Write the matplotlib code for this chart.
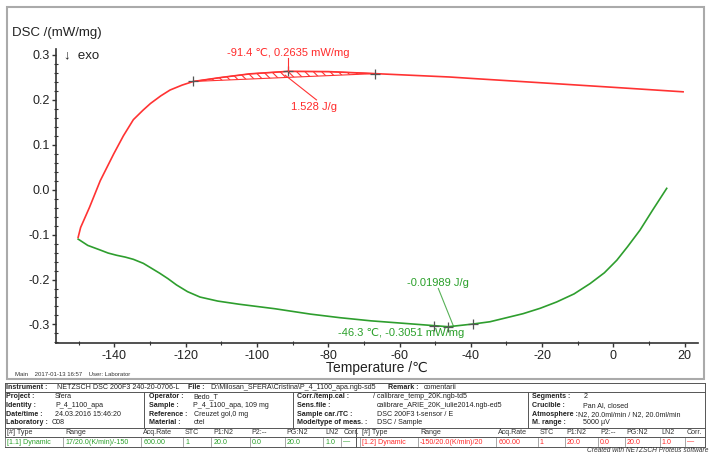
import numpy as np
import matplotlib.pyplot as plt
from matplotlib.lines import Line2D
from matplotlib.patches import Rectangle

plt.rcParams['font.family'] = ['Liberation Sans', 'DejaVu Sans']
plt.rcParams['hatch.linewidth'] = 0.8

W, H = 710, 454

# segment [1.2] heating -150 -> 20 C
heat_t = [-150.2, -149.5, -147.0, -144.0, -140.2, -137.5, -134.7, -132.0, -129.9,
          -127.0, -124.4, -121.0, -117.9, -110.0, -102.0, -91.4, -80.0, -66.9,
          -46.0, -40.2, -20.0, 0.0, 19.6]
heat_dsc = [-0.106, -0.084, -0.039, 0.020, 0.080, 0.120, 0.156, 0.177, 0.192,
            0.209, 0.222, 0.233, 0.241, 0.250, 0.258, 0.2635, 0.263, 0.2585,
            0.251, 0.248, 0.238, 0.228, 0.218]

# segment [1.1] cooling 17 -> -150 C
cool_t = [15.0, 11.0, 7.5, 4.0, 1.0, -2.5, -6.5, -11.0, -15.9, -20.5, -25.3, -34.6,
          -39.3, -46.3, -58.0, -68.0, -76.7, -85.0, -95.0, -105.0, -111.0, -116.0,
          -119.5, -122.6, -125.0, -127.3, -129.8, -131.9, -134.7, -137.0, -139.4,
          -141.8, -144.1, -147.5, -150.2]
cool_dsc = [0.003, -0.046, -0.090, -0.127, -0.157, -0.185, -0.209, -0.232, -0.250,
            -0.264, -0.276, -0.294, -0.299, -0.3051, -0.298, -0.292, -0.285, -0.277,
            -0.265, -0.255, -0.248, -0.239, -0.227, -0.212, -0.198, -0.186, -0.174,
            -0.164, -0.155, -0.150, -0.146, -0.141, -0.134, -0.124, -0.110]

# evaluation marks
heat_marks_t = [-117.9, -91.4, -66.9]
heat_marks_dsc = [0.241, 0.2635, 0.2585]
cool_marks_t = [-50.3, -46.3, -39.3]
cool_marks_dsc = [-0.303, -0.3051, -0.300]

xticks = [-140, -120, -100, -80, -60, -40, -20, 0, 20]
yticks = [-0.3, -0.2, -0.1, 0.0, 0.1, 0.2, 0.3]

red = '#ff3333'
green = '#2e9e2e'
red_txt = '#ff2a2a'
green_txt = '#2aa02a'


def fx(px):
    return px / W


def fy(py):
    return 1 - py / H


fig = plt.figure(figsize=(W / 100, H / 100), dpi=100)
ax = fig.add_axes([fx(55.7), fy(343.3), (697.7 - 55.7) / W, (343.3 - 48.7) / H])
ax.set_xlim(-156.5, 23.7)
ax.set_ylim(-0.342, 0.314)

ax.plot(cool_t, cool_dsc, color=green, lw=1.2)
ax.plot(heat_t, heat_dsc, color=red, lw=1.2)

# hatched peak area between curve and straight baseline
t0, t1 = heat_marks_t[0], heat_marks_t[2]
px_ = [t for t in heat_t if t0 <= t <= t1]
py_ = [d for t, d in zip(heat_t, heat_dsc) if t0 <= t <= t1]
ax.fill(px_ + [t1, t0], py_ + [heat_marks_dsc[2], heat_marks_dsc[0]],
        facecolor='none', edgecolor=red, hatch='\\\\\\\\', lw=0.8)

ax.plot(heat_marks_t, heat_marks_dsc, '+', color='#555555', ms=7, mew=0.9)
ax.plot(cool_marks_t, cool_marks_dsc, '+', color='#555555', ms=7, mew=0.9)

# annotations
ax.plot([-91.4, -91.4], [0.2635, 0.294], color=red, lw=0.8)
ax.text(-91.3, 0.305, '-91.4 \u2103, 0.2635 mW/mg', color=red_txt, fontsize=8,
        ha='center', va='center')
ax.plot([-92.1, -83.3], [0.255, 0.200], color=red, lw=0.8)
ax.text(-84.0, 0.184, '1.528 J/g', color=red_txt, fontsize=8, ha='center', va='center')

ax.plot([-49.1, -44.9], [-0.220, -0.303], color=green, lw=0.8, alpha=0.8)
ax.text(-49.1, -0.207, '-0.01989 J/g', color=green_txt, fontsize=8,
        ha='center', va='center')
ax.text(-59.6, -0.319, '-46.3 \u2103, -0.3051 mW/mg', color=green_txt, fontsize=8,
        ha='center', va='center')

for s in ['top', 'right']:
    ax.spines[s].set_visible(False)
for s in ['left', 'bottom']:
    ax.spines[s].set_color('#333333')
    ax.spines[s].set_linewidth(1.2)
ax.set_xticks(xticks)
ax.set_xticklabels([str(v) for v in xticks])
ax.set_yticks(yticks)
ax.set_yticklabels([f'{v:.1f}' for v in yticks])
ax.set_xticks(np.arange(-150, 21, 10), minor=True)
ax.set_yticks(np.arange(-0.34, 0.31, 0.02), minor=True)
ax.tick_params(which='major', length=3, width=1, color='#333333', labelsize=9,
               labelcolor='#222222', pad=1.5)
ax.tick_params(which='minor', length=2.5, width=0.8, color='#333333', direction='inout')

fig.text(fx(376.7), fy(368), 'Temperature /\u2103', fontsize=10, ha='center',
         va='center', color='#222222')
fig.text(fx(12), fy(33), 'DSC /(mW/mg)', fontsize=9.5, ha='left', va='center',
         color='#222222')
fig.text(fx(64), fy(55), '\u2193  exo', fontsize=9.5, ha='left', va='center',
         color='#222222')
fig.text(fx(15), fy(374), 'Main    2017-01-13 16:57    User: Laborator', fontsize=4.3,
         ha='left', va='center', color='#333333')

# chart frame
fig.add_artist(Rectangle((fx(7), fy(379)), (704 - 7) / W, (379 - 7) / H,
                         transform=fig.transFigure, fill=False,
                         edgecolor='#aaaaaa', lw=1.5))


# ---- info table ----
def hline(y, x0=5, x1=705, c='#555555', lw=0.7):
    fig.add_artist(Line2D([fx(x0), fx(x1)], [fy(y), fy(y)],
                          transform=fig.transFigure, color=c, lw=lw))


def vline(x, y0, y1, c='#555555', lw=0.7):
    fig.add_artist(Line2D([fx(x), fx(x)], [fy(y0), fy(y1)],
                          transform=fig.transFigure, color=c, lw=lw))


def txt(x, y, s, bold=False, color='#222222', size=5.1, **kw):
    fig.text(fx(x), fy(y), s, fontsize=size, ha='left', va='center', color=color,
             fontweight='bold' if bold else 'normal', **kw)


for y in [382.5, 391.7, 427.7, 436.5, 447.0]:
    hline(y)
vline(5, 382.5, 447.0)
vline(705, 382.5, 447.0)
for x in [144, 293, 528.3]:
    vline(x, 391.7, 427.7)
vline(356, 427.7, 447.0)

txt(6.5, 387.7, 'Instrument :', True)
txt(56.7, 387.7, 'NETZSCH DSC 200F3 240-20-0706-L')
txt(188.3, 387.7, 'File :', True)
txt(210, 387.7, 'D:\\Milosan_SFERA\\Cristina\\P_4_1100_apa.ngb-sd5')
txt(388.3, 387.7, 'Remark :', True)
txt(423.3, 387.7, 'comentarii')

rows = [396.7, 405.7, 414.3, 423.0]
info = [
    (6.5, ['Project :', 'Identity :', 'Date/time :', 'Laboratory :'],
     [55, 55, 55, 52], ['Sfera', 'P_4_1100_apa', '24.03.2016 15:46:20', 'C08']),
    (149.3, ['Operator :', 'Sample :', 'Reference :', 'Material :'],
     [193.3, 193.3, 194, 193.3], ['Bedo_T', 'P_4_1100_apa, 109 mg', 'Creuzet gol,0 mg', 'otel']),
    (297.3, ['Corr./temp.cal :', 'Sens.file :', 'Sample car./TC :', 'Mode/type of meas. :'],
     [373, 376.7, 376.7, 376.7], ['/ calibrare_temp_20K.ngb-td5',
                                 'calibrare_ARIE_20K_iulie2014.ngb-ed5',
                                 'DSC 200F3 t-sensor / E', 'DSC / Sample']),
    (531.7, ['Segments :', 'Crucible :', 'Atmosphere :', 'M. range :'],
     [583.3, 583.3, 578.5, 583.3], ['2', 'Pan Al, closed',
                                   'N2, 20.0ml/min / N2, 20.0ml/min', '5000 \u00b5V']),
]
for lx, labels, vxs, vals in info:
    for y, lab, vx, v in zip(rows, labels, vxs, vals):
        txt(lx, y, lab, True)
        txt(vx, y, v)

head = ['[#] Type', 'Range', 'Acq.Rate', 'STC', 'P1:N2', 'P2:--', 'PG:N2', 'LN2', 'Corr.']
seg1 = ['[1.1] Dynamic', '17/20.0(K/min)/-150', '600.00', '1', '20.0', '0.0', '20.0',
        '1.0', '\u2014']
seg2 = ['[1.2] Dynamic', '-150/20.0(K/min)/20', '600.00', '1', '20.0', '0.0', '20.0',
        '1.0', '\u2014']
cols1 = [6.7, 65, 143.3, 185, 213.3, 251.7, 286.7, 325, 343.3]
cols2 = [361.7, 420, 498.3, 540, 566.7, 600, 626.7, 661.7, 686.7]
for cols, seg, c in [(cols1, seg1, green_txt), (cols2, seg2, red_txt)]:
    for x, h, v in zip(cols, head, seg):
        txt(x, 432.3, h, color='#333333')
        txt(x, 442.0, v, color=c)
        vline(x - 2, 437.5, 446.0, c='#999999', lw=0.6)

fig.text(fx(708), fy(450.5), 'Created with NETZSCH Proteus software', fontsize=4.8,
         ha='right', va='center', style='italic', color='#333333')

fig.savefig('out.png', dpi=100)
